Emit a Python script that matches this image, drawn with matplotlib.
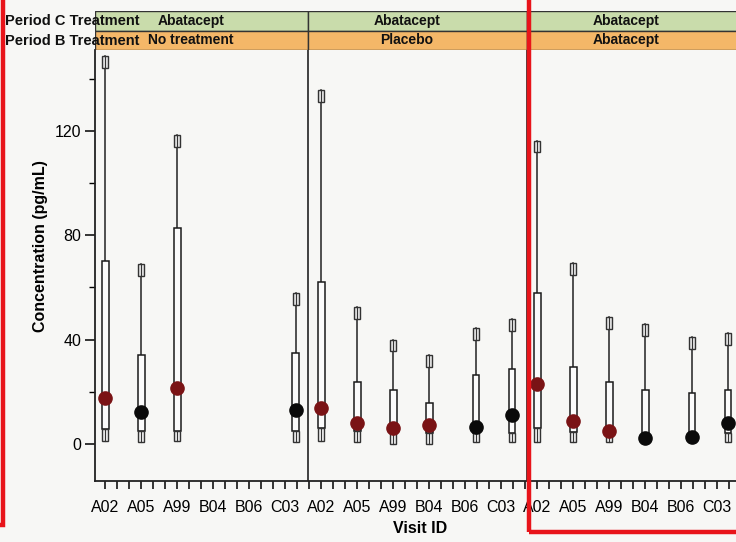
import numpy as np
import matplotlib
matplotlib.use("Agg")
import matplotlib.pyplot as plt
from matplotlib.patches import Rectangle

plt.rcParams['font.family'] = ['Liberation Sans', 'DejaVu Sans']

# ---------------- data ----------------
visits = ['A02', 'A05', 'A99', 'B04', 'B06', 'C03']
visit_shift = [0.0, 0.0, 0.0, 0.0, 0.3, 0.3]   # actual visit timing offset from label
period_c = ['Abatacept', 'Abatacept', 'Abatacept']
period_b = ['No treatment', 'Placebo', 'Abatacept']

nan = np.nan
# panels: Period B = No treatment / Placebo / Abatacept
upper = [[149, 69, 118.5, nan, nan, 58],
         [136, 52.5, 40, 34, 44.5, 48],
         [116.5, 69.5, 48.5, 46, 41, 42.5]]
q3 = [[70, 34, 83, nan, nan, 35],
      [62, 23.5, 20.5, 15.5, 26.5, 28.5],
      [58, 29.5, 23.5, 20.5, 19.5, 20.5]]
median = [[17.5, 12, 21.5, nan, nan, 13],
          [13.5, 8, 6, 7, 6.5, 11],
          [23, 8.5, 5, 2, 2.5, 8]]
q1 = [[5.5, 5, 5, nan, nan, 5],
      [6, 5, 4, 4, 4, 4],
      [6, 4.5, 4, 4, 4, 4]]
lower = [[1, 0.5, 1, nan, nan, 0.5],
         [1, 0.5, 0, 0, 0.5, 0.5],
         [0.5, 0.5, 0.5, 0.5, 0.5, 0.5]]
marker_group = [['red', 'black', 'red', None, None, 'black'],
                ['red', 'red', 'red', 'red', 'black', 'black'],
                ['red', 'red', 'red', 'black', 'black', 'black']]
colors = {'red': '#7a1315', 'black': '#0a0a0a'}

# ---------------- layout ----------------
W, H = 736, 542
fig = plt.figure(figsize=(W / 100, H / 100), dpi=100)
bg = '#f7f7f5'
fig.patch.set_facecolor(bg)

def fbox(l, t, r, b):
    return [l / W, 1 - b / H, (r - l) / W, (b - t) / H]

ax = fig.add_axes(fbox(95, 50, 746, 481))
ax.set_facecolor(bg)
xlim = (-0.28, 17.8)
ax.set_xlim(*xlim)
ax.set_ylim(-14.4, 151.3)
panel_edges = [-0.28, 5.64, 11.72, 17.8]

box_w = 0.19
cap_h = 4.6
for p in range(3):
    for i in range(len(visits)):
        if np.isnan(upper[p][i]):
            continue
        x = p * 6 + i + visit_shift[i]
        # whisker
        ax.plot([x, x], [q3[p][i], upper[p][i]], color='#222222', lw=1.1, zorder=2)
        # top cap
        ax.add_patch(Rectangle((x - box_w * 0.45, upper[p][i] - cap_h), box_w * 0.9, cap_h,
                               facecolor='#e6e6e6', edgecolor='#333333', lw=1.0, zorder=3))
        ax.plot([x, x], [upper[p][i] - cap_h, upper[p][i]], color='#333333', lw=0.8, zorder=4)
        # box
        ax.add_patch(Rectangle((x - box_w / 2, q1[p][i]), box_w, q3[p][i] - q1[p][i],
                               facecolor='#fbfbfb', edgecolor='#1a1a1a', lw=1.1, zorder=3))
        # bottom cap
        ax.add_patch(Rectangle((x - box_w * 0.45, lower[p][i]), box_w * 0.9, q1[p][i] - lower[p][i],
                               facecolor='#efefef', edgecolor='#333333', lw=1.0, zorder=3))
        ax.plot([x, x], [lower[p][i], q1[p][i]], color='#333333', lw=0.8, zorder=4)
        # median marker
        ax.plot(x, median[p][i], 'o', ms=9.5, color=colors[marker_group[p][i]],
                mec=colors[marker_group[p][i]], zorder=5)

for e in panel_edges[1:3]:
    ax.axvline(e, color='#222222', lw=1.2, zorder=1)

for s in ['top', 'right']:
    ax.spines[s].set_visible(False)
for s in ['left', 'bottom']:
    ax.spines[s].set_linewidth(1.3)
    ax.spines[s].set_color('#222222')

ax.set_yticks([0, 40, 80, 120])
ax.set_yticks([20, 60, 100, 140], minor=True)
ax.tick_params(axis='y', which='major', length=7, width=1.1, labelsize=11.5, pad=3)
ax.tick_params(axis='y', which='minor', length=4, width=1.0)

xt = np.arange(18)
ax.set_xticks(xt)
ax.set_xticklabels(visits * 3)
ax.set_xticks(np.arange(-1, 54) / 3.0, minor=True)
ax.set_xlim(*xlim)
ax.tick_params(axis='x', which='both', length=6, width=1.1, labelsize=11.5, pad=8)

ax.set_ylabel('Concentration (pg/mL)', fontsize=11.5, fontweight='bold')
ax.yaxis.set_label_coords(-(95 - 48) / 651, 0.5 + (50 + 431 / 2 - 246) / 431)
ax.set_xlabel('Visit ID', fontsize=11.5, fontweight='bold', labelpad=4)

# ---------------- header strips ----------------
sax = fig.add_axes(fbox(95, 11, 746, 50))
sax.set_xlim(*xlim)
sax.set_ylim(0, 2)
sax.axis('off')
green = '#c9dcab'
orange = '#f4b768'
for p in range(3):
    l, r = panel_edges[p], panel_edges[p + 1]
    sax.add_patch(Rectangle((l, 1), r - l, 1, facecolor=green, edgecolor='#333333', lw=1.0))
    sax.add_patch(Rectangle((l, 0), r - l, 1, facecolor=orange, edgecolor='#333333', lw=1.0))
    cx = (l + r) / 2 - 0.3
    sax.text(cx, 1.5, period_c[p], ha='center', va='center', fontsize=10,
             fontweight='bold', color='#111111')
    sax.text(cx, 0.5, period_b[p], ha='center', va='center', fontsize=10,
             fontweight='bold', color='#111111')

fig.text(5 / W, 1 - 21 / H, 'Period C Treatment', ha='left', va='center',
         fontsize=10.5, fontweight='bold', color='#111111', zorder=5)
fig.text(5 / W, 1 - 41 / H, 'Period B Treatment', ha='left', va='center',
         fontsize=10.5, fontweight='bold', color='#111111', zorder=5)

# ---------------- red annotation boxes ----------------
fig.add_artist(Rectangle((529 / W, 1 - 532 / H), 300 / W, 560 / H, transform=fig.transFigure,
                         fill=False, edgecolor='#e8141a', lw=3.2, zorder=10))
fig.add_artist(Rectangle((-60 / W, 1 - 525 / H), 63 / W, 560 / H, transform=fig.transFigure,
                         fill=False, edgecolor='#e8141a', lw=3.2, zorder=10))

fig.savefig('out.png', dpi=100, facecolor=fig.get_facecolor())
